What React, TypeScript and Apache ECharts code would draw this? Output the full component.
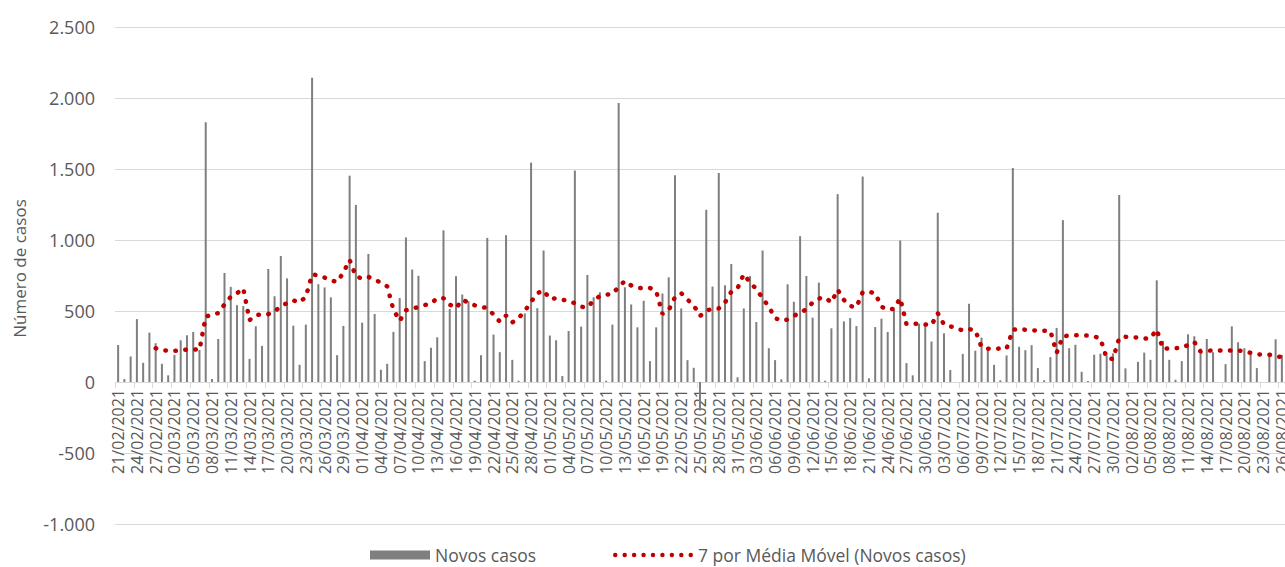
import React, { useEffect, useRef } from "react";
import * as echarts from "echarts";

// Daily new cases, 21/02/2021 .. 26/08/2021
const novosCasos: number[] = [
  261, 20, 180, 443, 135, 348, 273, 128, 47, 191,
  294, 329, 352, 226, 1829, 21, 303, 768, 670, 541,
  534, 163, 392, 254, 796, 604, 887, 730, 397, 121,
  404, 2142, 689, 666, 596, 189, 395, 1453, 1247, 418,
  902, 479, 86, 128, 353, 591, 1018, 792, 748, 147,
  241, 315, 1068, 514, 745, 616, 569, 9, 189, 1015,
  334, 210, 1034, 156, 9, 483, 1545, 520, 926, 327,
  294, 42, 359, 1489, 390, 754, 597, 632, 9, 404,
  1964, 667, 546, 385, 572, 147, 385, 623, 737, 1456,
  518, 154, 100, -200, 1213, 672, 1472, 681, 831, 33,
  518, 747, 422, 926, 238, 154, 19, 688, 565, 1027,
  747, 453, 700, 9, 378, 1323, 427, 450, 394, 1447,
  26, 387, 446, 352, 509, 996, 133, 47, 411, 411,
  285, 1192, 343, 84, 0, 198, 551, 220, 313, 227,
  121, 12, 187, 1507, 248, 224, 259, 98, 12, 175,
  381, 1140, 238, 262, 72, 7, 192, 199, 187, 201,
  1317, 96, 0, 142, 207, 156, 716, 289, 156, 16,
  147, 336, 322, 235, 303, 210, 0, 126, 392, 280,
  238, 205, 98, 0, 191, 301, 191,
];

// 7-day moving average line
const mediaMovel: (number | null)[] = [
  null, null, null, null, null, null, 238, 225, 220, 219,
  224, 228, 230, 226, 460, 475, 485, 546, 600, 625,
  660, 435, 470, 478, 478, 495, 535, 555, 575, 560,
  600, 757, 752, 735, 715, 705, 770, 860, 745, 728,
  740, 720, 700, 673, 510, 430, 505, 516, 528, 542,
  552, 590, 590, 545, 520, 578, 560, 540, 530, 520,
  475, 425, 468, 420, 450, 500, 565, 625, 645, 585,
  590, 580, 570, 555, 530, 525, 575, 605, 615, 620,
  670, 712, 680, 665, 658, 662, 640, 480, 505, 597,
  625, 580, 540, 465, 500, 518, 518, 560, 635, 660,
  760, 700, 655, 590, 530, 450, 432, 440, 465, 490,
  510, 560, 588, 595, 560, 650, 578, 535, 527, 632,
  635, 625, 530, 510, 515, 590, 408, 410, 411, 405,
  400, 485, 405, 392, 380, 362, 372, 365, 245, 235,
  233, 236, 235, 368, 374, 368, 364, 362, 361, 360,
  205, 322, 327, 329, 328, 327, 322, 305, 168, 162,
  310, 318, 316, 313, 305, 308, 370, 232, 238, 238,
  241, 260, 282, 214, 218, 224, 222, 219, 222, 222,
  217, 205, 193, 195, 192, 184, 174,
];

const firstDay = { year: 2021, month: 2, day: 21 };
const pad = (n: number) => (n < 10 ? "0" + n : "" + n);
const categories: string[] = novosCasos.map((_, i) => {
  const d = new Date(Date.UTC(firstDay.year, firstDay.month - 1, firstDay.day + i));
  return `${pad(d.getUTCDate())}/${pad(d.getUTCMonth() + 1)}/${d.getUTCFullYear()}`;
});

const seriesNames = ["Novos casos", "7 por Média Móvel (Novos casos)"];
const yMin = -1000;
const yMax = 2500;
const yStep = 500;

const fmt = (v: number) => {
  const s = Math.abs(v).toString().replace(/\B(?=(\d{3})+(?!\d))/g, ".");
  return (v < 0 ? "-" : "") + s;
};

// dotted legend icon: 9 round dots
const dotIcon =
  "path://" +
  Array.from({ length: 9 }, (_, k) => {
    const cx = 2.25 + k * 9.45;
    return `M${cx - 2.25},2.25a2.25,2.25 0 1,0 4.5,0a2.25,2.25 0 1,0 -4.5,0Z`;
  }).join(" ");

export default function App() {
  const ref = useRef<HTMLDivElement>(null);
  useEffect(() => {
    document.body.style.margin = "0";
    if (!ref.current) return;
    const chart = echarts.init(ref.current, undefined, { renderer: "svg" });
    const font = "Open Sans";
    const gridTop = 27;
    const gridBottom = 43;
    const plotH = 567 - gridTop - gridBottom;
    const zeroOffset = -Math.round((plotH * (0 - yMin)) / (yMax - yMin));
    const legendText = { fontSize: 17.5, lineHeight: 18, color: "#595959", fontFamily: font };
    chart.setOption({
      animation: false,
      textStyle: { fontFamily: font },
      grid: {
        left: 115,
        right: 0,
        top: gridTop,
        bottom: gridBottom,
        containLabel: false,
        outerBoundsMode: "none",
      },
      legend: [
        {
          left: 370,
          top: 546,
          padding: 0,
          itemWidth: 60,
          itemHeight: 9,
          textStyle: legendText,
          data: [{ name: seriesNames[0], icon: "rect", itemStyle: { color: "#7f7f7f" } }],
        },
        {
          left: 613,
          top: 546,
          padding: 0,
          itemWidth: 80,
          itemHeight: 4.5,
          textStyle: legendText,
          data: [{ name: seriesNames[1], icon: dotIcon, itemStyle: { color: "#c00000" } }],
        },
      ],
      xAxis: {
        type: "category",
        data: categories,
        boundaryGap: true,
        position: "bottom",
        offset: zeroOffset,
        axisLine: { onZero: false, lineStyle: { color: "#d9d9d9", width: 1 } },
        axisTick: { show: true, interval: 2, length: 6, lineStyle: { color: "#d9d9d9" } },
        axisLabel: {
          interval: 2,
          rotate: 90,
          color: "#595959",
          fontSize: 16,
          margin: 7,
          fontFamily: font,
        },
        splitLine: { show: false },
      },
      yAxis: {
        type: "value",
        min: yMin,
        max: yMax,
        interval: yStep,
        name: "Número de casos",
        nameLocation: "middle",
        nameGap: 87,
        nameTextStyle: { fontSize: 17, color: "#595959", fontFamily: font, padding: [0, 0, 0, 14] },
        axisLine: { show: false },
        axisTick: { show: false },
        axisLabel: {
          formatter: (v: number) => fmt(v),
          color: "#595959",
          fontSize: 18,
          margin: 20,
          fontFamily: font,
        },
        splitLine: { lineStyle: { color: "#d9d9d9", width: 1 } },
      },
      series: [
        {
          name: seriesNames[0],
          type: "bar",
          data: novosCasos,
          barWidth: 2,
          itemStyle: { color: "#7f7f7f" },
        },
        {
          name: seriesNames[1],
          type: "line",
          data: mediaMovel,
          symbol: "none",
          smooth: false,
          itemStyle: { color: "#c00000" },
          lineStyle: { color: "#c00000", width: 4.5, type: [0.5, 9.5], cap: "round" },
        },
      ],
    });
    return () => chart.dispose();
  }, []);
  return <div ref={ref} style={{ width: 1285, height: 567 }} />;
}
